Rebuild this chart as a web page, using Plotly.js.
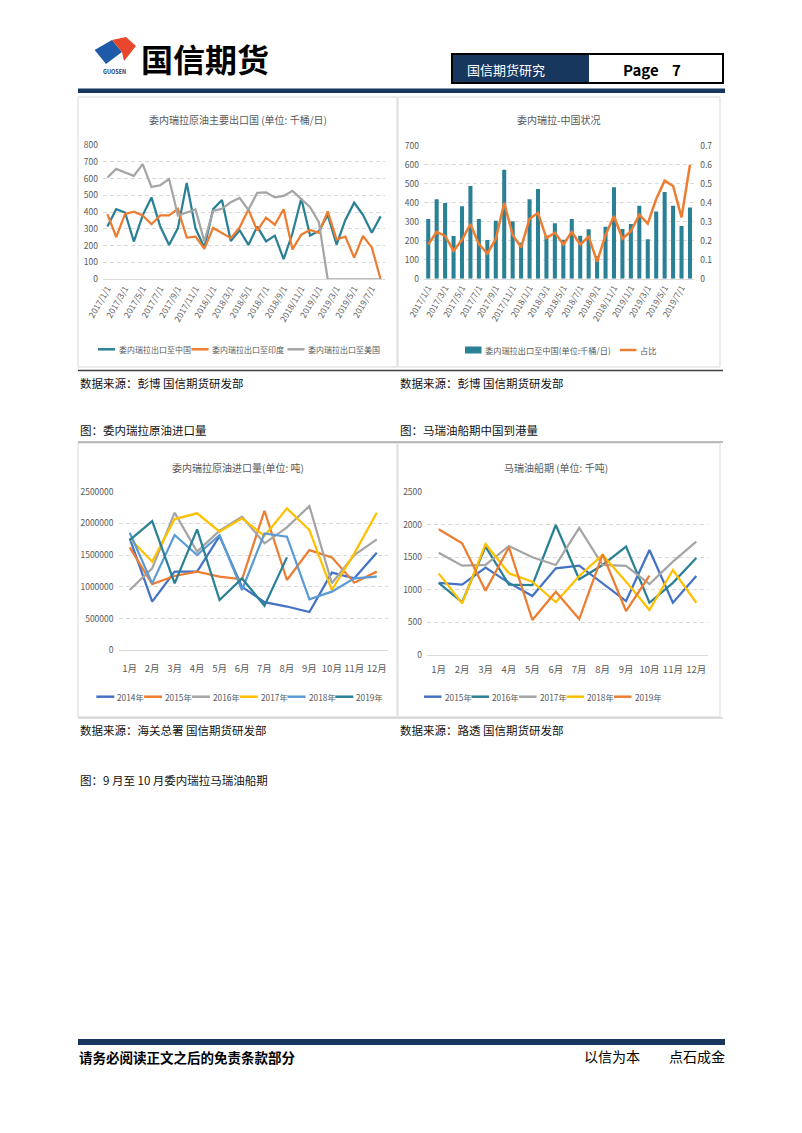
<!DOCTYPE html>
<html><head><meta charset="utf-8">
<script src="https://cdn.plot.ly/plotly-3.0.1.min.js"></script>
<style>html,body{margin:0;padding:0;background:#fff;}#chart{width:802px;height:1133px;}</style>
</head><body><div id="chart"></div>
<script>
// ---------- DATA ----------
const dates = ['2017/1/1','2017/2/1','2017/3/1','2017/4/1','2017/5/1','2017/6/1','2017/7/1','2017/8/1','2017/9/1','2017/10/1','2017/11/1','2017/12/1',
 '2018/1/1','2018/2/1','2018/3/1','2018/4/1','2018/5/1','2018/6/1','2018/7/1','2018/8/1','2018/9/1','2018/10/1','2018/11/1','2018/12/1',
 '2019/1/1','2019/2/1','2019/3/1','2019/4/1','2019/5/1','2019/6/1','2019/7/1','2019/8/1'];
const exportNames = ['委内瑞拉出口至中国','委内瑞拉出口至印度','委内瑞拉出口至美国'];
const chinaExp = [314,418,398,225,381,488,314,204,305,574,302,190,418,472,228,292,205,314,226,260,120,274,481,261,288,384,207,354,456,384,277,375];
const indiaExp = [388,252,388,403,381,328,381,381,420,249,254,182,306,274,245,308,416,290,367,325,417,178,266,294,277,405,238,254,129,258,190,0];
const usExp    = [606,658,636,616,686,550,560,597,380,400,416,226,408,420,459,485,414,515,518,488,497,527,477,430,340,0,0,0,0,0,0,0];
const chinaNames = ['委内瑞拉出口至中国(单位:千桶/日)','占比'];
const chinaRatio = [0.18,0.246,0.225,0.146,0.205,0.288,0.182,0.132,0.209,0.40,0.23,0.165,0.316,0.346,0.214,0.242,0.18,0.246,0.18,0.221,0.09,0.23,0.33,0.21,0.25,0.337,0.29,0.42,0.516,0.488,0.323,0.60];

const months = ['1月','2月','3月','4月','5月','6月','7月','8月','9月','10月','11月','12月'];
const importNames = ['2014年','2015年','2016年','2017年','2018年','2019年'];
const imp2014 = [1765000,767000,1240000,1240000,1800000,1000000,760000,690000,604000,1224000,1134000,1539000];
const imp2015 = [1623000,1045000,1171000,1240000,1160000,1119000,2200000,1108000,1580000,1465000,1066000,1240000];
const imp2016 = [950000,1292000,2169000,1555000,1885000,2106000,1686000,1938000,2274000,1056000,1502000,1749000];
const imp2017 = [1765000,1397000,2069000,2159000,1870000,2080000,1801000,2237000,1896000,950000,1528000,2169000];
const imp2018 = [1854000,1055000,1817000,1502000,1817000,950000,1843000,1791000,803000,924000,1134000,1160000];
const imp2019 = [1738000,2037000,1055000,1906000,793000,1134000,703000,1465000];

const shipNames = ['2015年','2016年','2017年','2018年','2019年'];
const ship2015 = [1108,1082,1344,1108,906,1332,1372,1100,829,1614,803,1213];
const ship2016 = [1108,810,1665,1082,1075,1998,1163,1383,1665,803,1108,1490];
const ship2017 = [1572,1372,1383,1675,1501,1383,1952,1383,1368,1090,1434,1741];
const ship2018 = [1255,794,1706,1255,1127,810,1214,1537,1127,692,1306,803];
const ship2019 = [1931,1716,989,1655,538,973,553,1547,676,1219];

// ---------- HELPERS ----------
const W=802,H=1133;
const X=v=>v/W, Y=v=>1-v/H;
const FONT='"Noto Sans CJK SC","Noto Sans",sans-serif';
const AX='#595959', GRID='#D9D9D9';
const TEAL='#2A8196', ORANGE='#ED7D31', GRAY='#A5A5A5', BLUE='#4472C4', YELLOW='#FFC000', LBLUE='#5B9BD5', NAVY='#17375E';

function ln(x,y,name,color,xa,ya,w){return {type:'scatter',mode:'lines',x:x,y:y,name:name,xaxis:xa,yaxis:ya,line:{color:color,width:w||2.25},showlegend:false,hoverinfo:'skip'};}

const data = [
  ln(dates,chinaExp,exportNames[0],TEAL,'x','y'),
  ln(dates,indiaExp,exportNames[1],ORANGE,'x','y'),
  ln(dates,usExp,exportNames[2],GRAY,'x','y'),
  {type:'bar',x:dates,y:chinaExp,name:chinaNames[0],xaxis:'x2',yaxis:'y2',marker:{color:TEAL},showlegend:false,hoverinfo:'skip'},
  ln(dates,chinaRatio,chinaNames[1],ORANGE,'x2','y3',2.5),
  ln(months,imp2014,importNames[0],BLUE,'x4','y4'),
  ln(months,imp2015,importNames[1],ORANGE,'x4','y4'),
  ln(months,imp2016,importNames[2],GRAY,'x4','y4'),
  ln(months,imp2017,importNames[3],YELLOW,'x4','y4'),
  ln(months,imp2018,importNames[4],LBLUE,'x4','y4'),
  ln(months.slice(0,imp2019.length),imp2019,importNames[5],TEAL,'x4','y4'),
  ln(months,ship2015,shipNames[0],BLUE,'x5','y5'),
  ln(months,ship2016,shipNames[1],TEAL,'x5','y5'),
  ln(months,ship2017,shipNames[2],GRAY,'x5','y5'),
  ln(months,ship2018,shipNames[3],YELLOW,'x5','y5'),
  ln(months.slice(0,ship2019.length),ship2019,shipNames[4],ORANGE,'x5','y5')
];

const cat = (extra)=>Object.assign({type:'category',showgrid:false,zeroline:false,showline:true,linecolor:GRID,linewidth:1,ticks:'',fixedrange:true,
  tickfont:{size:9,color:AX,family:FONT}},extra);
const val = (extra)=>Object.assign({showgrid:true,gridcolor:GRID,griddash:'4px,3px',gridwidth:1,zeroline:false,showline:false,ticks:'',fixedrange:true,
  tickfont:{size:8.5,color:AX,family:FONT},ticklabelstandoff:4},extra);
const evenDates = dates.filter((d,i)=>i%2===0);

function T(text,x,y,size,color,anchor,extra){return Object.assign({text:text,x:X(x),y:Y(y),xref:'paper',yref:'paper',xanchor:anchor||'left',yanchor:'middle',showarrow:false,
  font:{size:size,color:color,family:FONT}},extra||{});}
function rect(x0,y0,x1,y1,fill,lc,lw){return {type:'rect',xref:'paper',yref:'paper',x0:X(x0),x1:X(x1),y0:Y(y0),y1:Y(y1),fillcolor:fill||'rgba(0,0,0,0)',line:{color:lc||'rgba(0,0,0,0)',width:lw||0}};}
function seg(x0,y0,x1,y1,color,w){return {type:'line',xref:'paper',yref:'paper',x0:X(x0),x1:X(x1),y0:Y(y0),y1:Y(y1),line:{color:color,width:w}};}
function path(pts,fill){return {type:'path',xref:'paper',yref:'paper',path:'M'+pts.map(p=>X(p[0])+','+Y(p[1])).join(' L')+' Z',fillcolor:fill,line:{width:0}};}

const shapes = [], ann = [];
// header
shapes.push(path([[94.6,50],[112,40],[122,52],[106,64]],'#1E5AA8'));
shapes.push(path([[112,40],[126,37],[136,46],[124,61],[122,52]],'#E8472B'));
ann.push(T('<b>GUOSEN</b>',114,72.5,5.5,'#1E3A6E','center'));
ann.push(T('<b>国信期货</b>',139,57.5,32,'#000','left'));
shapes.push(rect(452,54,589,83,NAVY));
shapes.push(rect(452,54,723,83,null,'#000',2));
ann.push(T('国信期货研究',465,69,13,'#fff','left'));
ann.push(T('<b>Page</b>',621,69,15,'#000','left'));
ann.push(T('<b>7</b>',670,69,15,'#000','left'));
shapes.push(rect(78,88.5,725,93,NAVY));

// panels
shapes.push(rect(78,97,397,367,null,GRID,1));
shapes.push(rect(398,97,720,367,null,GRID,1));
shapes.push(seg(78,370.5,723,370.5,'#404040',1.5));
shapes.push(rect(78,443,397,717,null,GRID,1));
shapes.push(rect(398,443,720,717,null,GRID,1));
shapes.push(seg(78,442,723,442,'#A6A6A6',1.5));
shapes.push(seg(78,718,723,718,'#BFBFBF',1));

// titles
ann.push(T('委内瑞拉原油主要出口国 (单位: 千桶/日)',238,120,10,AX,'center'));
ann.push(T('委内瑞拉-中国状况',558,120,10,AX,'center'));
ann.push(T('委内瑞拉原油进口量(单位: 吨)',238,467,10,AX,'center'));
ann.push(T('马瑞油船期 (单位: 千吨)',556,467,10,AX,'center'));

// legends (custom, Excel-like)
const tlCols=[TEAL,ORANGE,GRAY], tlX=[98,191.5,287.5];
exportNames.forEach((n,i)=>{shapes.push(seg(tlX[i],349.3,tlX[i]+17,349.3,tlCols[i],2.5));ann.push(T(n,tlX[i]+18.5,349.3,8,AX,'left'));});
shapes.push(rect(465,346.5,481.5,353.5,TEAL));
ann.push(T(chinaNames[0],483,350,8.2,AX,'left'));
shapes.push(seg(620,350,636.5,350,ORANGE,2.5));
ann.push(T(chinaNames[1],638,350,8.2,AX,'left'));
const blCols=[BLUE,ORANGE,GRAY,YELLOW,LBLUE,TEAL];
importNames.forEach((n,i)=>{const x0=96.3+47.8*i;shapes.push(seg(x0,696.7,x0+18,696.7,blCols[i],2.5));ann.push(T(n,x0+19,696.7,8.3,AX,'left'));});
const brCols=[BLUE,TEAL,GRAY,YELLOW,ORANGE];
shipNames.forEach((n,i)=>{const x0=424+47.5*i;shapes.push(seg(x0,696.7,x0+17.5,696.7,brCols[i],2.5));ann.push(T(n,x0+18.5,696.7,8.3,AX,'left'));});

// captions
const CAP='#111';
ann.push(T('数据来源：彭博 国信期货研发部',78,383,11.5,CAP,'left'));
ann.push(T('数据来源：彭博 国信期货研发部',398,383,11.5,CAP,'left'));
ann.push(T('图：委内瑞拉原油进口量',78,430,11.5,CAP,'left'));
ann.push(T('图：马瑞油船期中国到港量',398,430,11.5,CAP,'left'));
ann.push(T('数据来源：海关总署 国信期货研发部',78,730,11.5,CAP,'left'));
ann.push(T('数据来源：路透 国信期货研发部',398,730,11.5,CAP,'left'));
ann.push(T('图：9 月至 10 月委内瑞拉马瑞油船期',78,780,11.5,CAP,'left'));

// footer
shapes.push(rect(78,1039,725,1045,NAVY));
ann.push(T('<b>请务必阅读正文之后的免责条款部分</b>',77,1057,13.5,'#000','left'));
ann.push(T('以信为本',582,1056,14,'#000','left'));
ann.push(T('点石成金',667,1056,14,'#000','left'));

const layout = {
  width:W,height:H,margin:{l:0,r:0,t:0,b:0},paper_bgcolor:'#fff',plot_bgcolor:'rgba(0,0,0,0)',
  showlegend:false,bargap:0.52,font:{family:FONT,color:AX},
  xaxis: cat({domain:[X(103),X(385)],anchor:'y',range:[-0.5,31.5],tickmode:'array',tickvals:evenDates,tickangle:-60,tickfont:{size:8.5,color:AX,family:FONT}}),
  yaxis: val({domain:[Y(279.3),Y(145)],anchor:'x',range:[0,800],dtick:100,tick0:0}),
  xaxis2: cat({domain:[X(424),X(694.2)],anchor:'y2',range:[-0.5,31.5],tickmode:'array',tickvals:evenDates,tickangle:-60,tickfont:{size:8.5,color:AX,family:FONT}}),
  yaxis2: val({domain:[Y(278.7),Y(145.7)],anchor:'x2',range:[0,700],dtick:100,tick0:0}),
  yaxis3: {overlaying:'y2',side:'right',anchor:'x2',range:[0,0.7],dtick:0.1,tick0:0,showgrid:false,zeroline:false,showline:false,ticks:'',fixedrange:true,
           tickfont:{size:8.5,color:AX,family:FONT},ticklabelstandoff:5},
  xaxis4: cat({domain:[X(118.5),X(388)],anchor:'y4',range:[-0.5,11.5],ticklabelstandoff:9,tickfont:{size:9.5,color:AX,family:FONT}}),
  yaxis4: val({domain:[Y(650.3),Y(491.7)],anchor:'x4',range:[0,2500000],dtick:500000,tick0:0,tickformat:'d'}),
  xaxis5: cat({domain:[X(427),X(708)],anchor:'y5',range:[-0.5,11.5],ticklabelstandoff:6,tickfont:{size:9.5,color:AX,family:FONT}}),
  yaxis5: val({domain:[Y(655),Y(492.3)],anchor:'x5',range:[0,2500],dtick:500,tick0:0,tickformat:'d'}),
  shapes:shapes, annotations:ann
};
Plotly.newPlot('chart',data,layout,{staticPlot:true,displayModeBar:false});
</script></body></html>
